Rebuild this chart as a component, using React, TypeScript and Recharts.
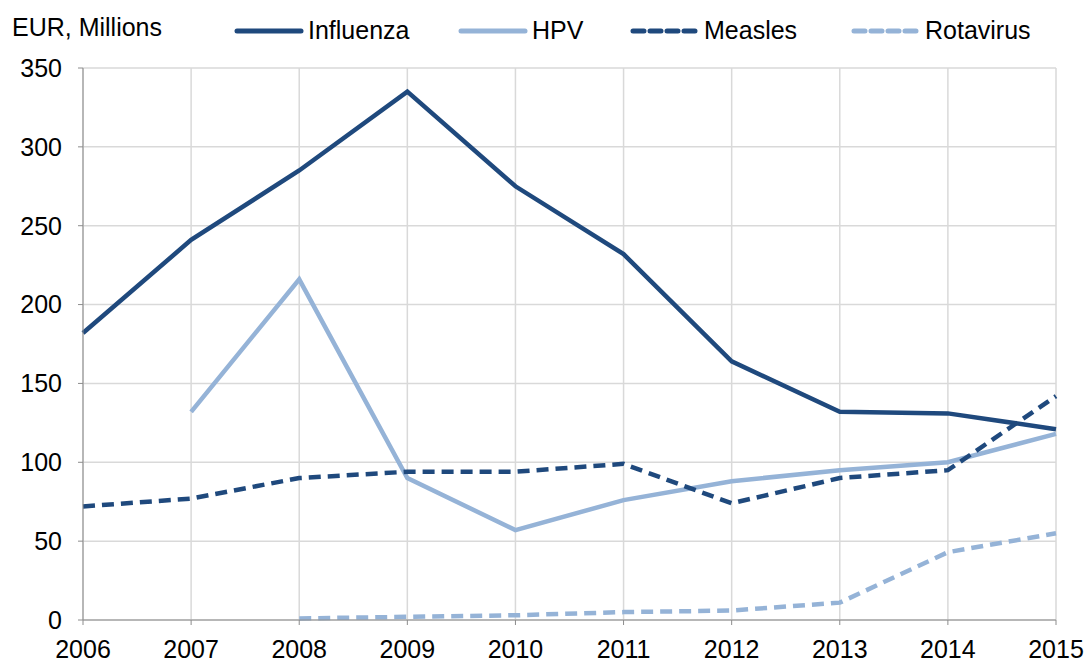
import React from 'react';
import { LineChart, Line, XAxis, YAxis, CartesianGrid } from 'recharts';

const years = ['2006', '2007', '2008', '2009', '2010', '2011', '2012', '2013', '2014', '2015'];
const influenza = [182, 241, 285, 335, 275, 232, 164, 132, 131, 121];
const hpv = [null, 132, 216, 90, 57, 76, 88, 95, 100, 118];
const measles = [72, 77, 90, 94, 94, 99, 74, 90, 95, 142];
const rotavirus = [null, null, 1, 2, 3, 5, 6, 11, 43, 55];
const yTicks = [0, 50, 100, 150, 200, 250, 300, 350];

const DARK = '#1f497d';
const LIGHT = '#95b3d7';
const FONT = '"Liberation Sans", Arial, sans-serif';

const data = years.map((year, i) => ({
    year,
    influenza: influenza[i],
    hpv: hpv[i],
    measles: measles[i],
    rotavirus: rotavirus[i],
}));

const legendItems = [
    { name: 'Influenza', color: DARK, dash: undefined, left: 234 },
    { name: 'HPV', color: LIGHT, dash: undefined, left: 458 },
    { name: 'Measles', color: DARK, dash: '11 6', left: 630 },
    { name: 'Rotavirus', color: LIGHT, dash: '11 6', left: 851 },
];

const App: React.FC = () => {
    const tickStyle = { fill: '#000', fontSize: 25, fontFamily: FONT };
    return (
        <div style={{ position: 'absolute', left: 0, top: 0, width: 1086, height: 662, background: '#fff', fontFamily: FONT }}>
            <div style={{ position: 'absolute', left: 12, top: 13, fontSize: 25, color: '#000' }}>EUR, Millions</div>
            {legendItems.map((item) => (
                <div key={item.name} style={{ position: 'absolute', left: item.left, top: 16, display: 'flex', alignItems: 'center', fontSize: 25, color: '#000' }}>
                    <svg width={70} height={10} style={{ marginRight: 4 }}>
                        <line x1={3} y1={5} x2={67} y2={5} stroke={item.color} strokeWidth={5} strokeLinecap="round" strokeDasharray={item.dash} />
                    </svg>
                    <span>{item.name}</span>
                </div>
            ))}
            <LineChart width={1086} height={662} data={data} margin={{ top: 68, right: 30, bottom: 12, left: 0 }}>
                <CartesianGrid stroke="#d9d9d9" strokeWidth={1.5} vertical={true} />
                <XAxis
                    dataKey="year"
                    tick={tickStyle}
                    tickSize={5}
                    tickMargin={15}
                    interval={0}
                    stroke="#8c8c8c"
                    height={30}
                />
                <YAxis
                    domain={[0, 350]}
                    ticks={yTicks}
                    tick={tickStyle}
                    tickSize={5}
                    tickMargin={16}
                    width={83}
                    stroke="#8c8c8c"
                    interval={0}
                />
                <Line dataKey="influenza" stroke={DARK} strokeWidth={4.5} dot={false} isAnimationActive={false} />
                <Line dataKey="hpv" stroke={LIGHT} strokeWidth={4.5} dot={false} isAnimationActive={false} />
                <Line dataKey="measles" stroke={DARK} strokeWidth={4.5} strokeDasharray="12 7" dot={false} isAnimationActive={false} />
                <Line dataKey="rotavirus" stroke={LIGHT} strokeWidth={4.5} strokeDasharray="12 7" dot={false} isAnimationActive={false} />
            </LineChart>
        </div>
    );
};

export default App;
